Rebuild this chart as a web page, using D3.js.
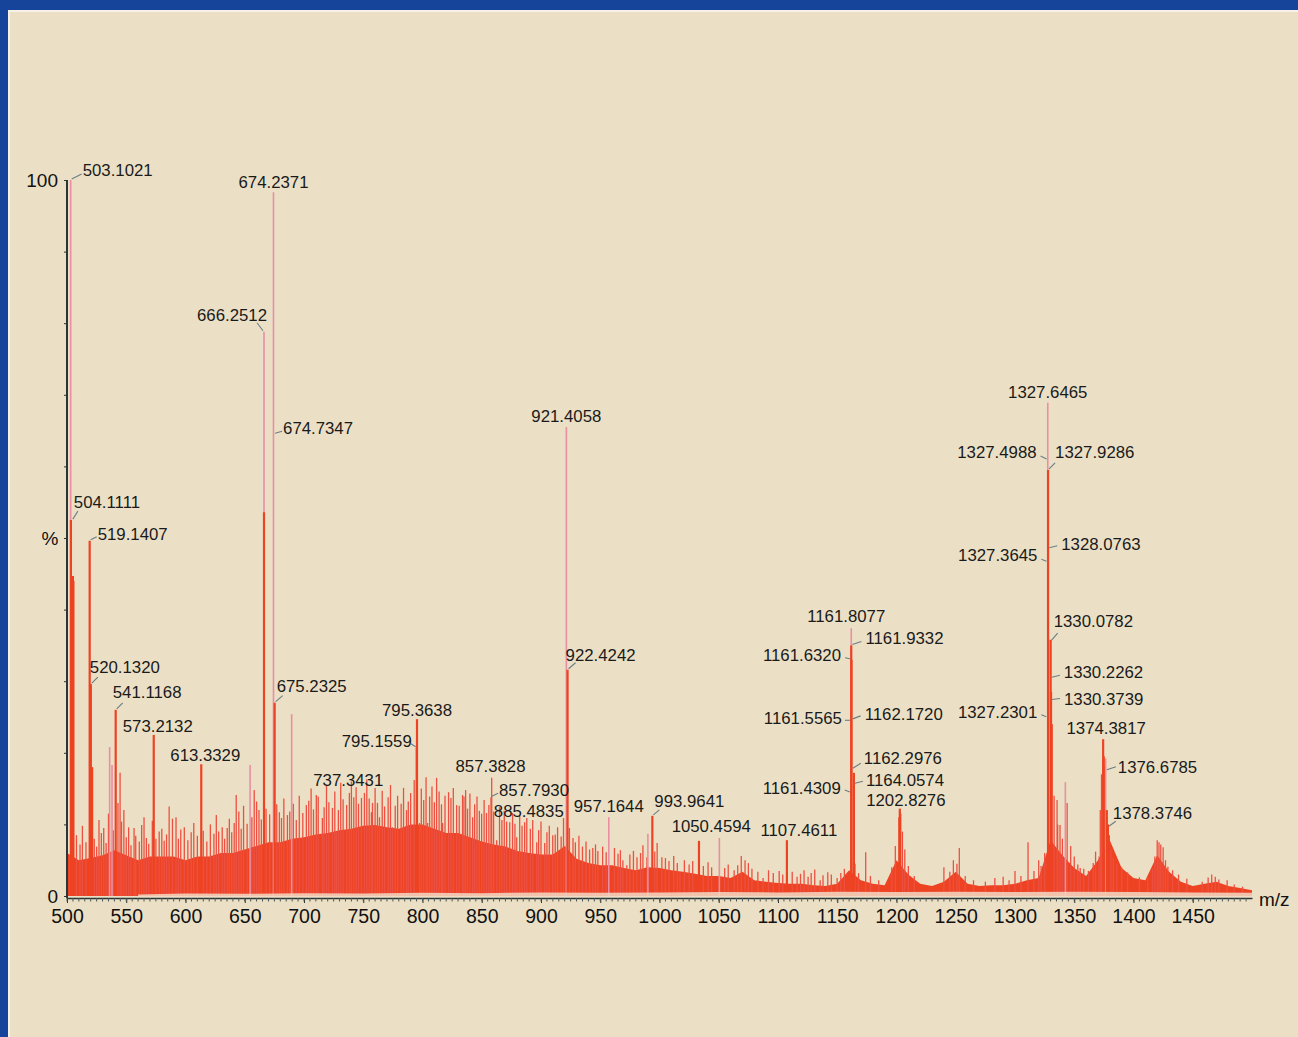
<!DOCTYPE html>
<html><head><meta charset="utf-8">
<script src="https://cdn.jsdelivr.net/npm/d3@7"></script>
<style>
html,body{margin:0;padding:0;background:#ebe0c5;}
svg{display:block;font-family:"Liberation Sans",Arial,sans-serif;}
</style></head>
<body>
<script>
// ---- data ----
const envelopeMz = d3.range(500, 1501, 10);
const envelopePct = [6.0,5.0,5.3,5.7,6.4,5.7,5.0,5.5,5.5,5.5,5.0,5.5,5.5,6.0,6.0,6.5,7.0,7.5,7.5,8.0,
  8.2,8.6,8.8,9.2,9.4,9.8,9.9,9.6,9.4,10.0,10.0,9.4,8.8,8.8,8.2,7.6,7.2,6.9,6.3,6.0,
  5.8,5.8,7.0,5.2,4.6,4.3,4.3,3.9,3.6,4.0,3.9,3.6,3.4,3.1,2.8,2.8,2.5,3.4,2.2,2.0,
  1.8,1.7,1.7,1.5,1.4,1.7,3.6,2.2,1.7,1.5,5.0,3.0,1.7,1.4,2.0,3.4,1.7,1.4,1.5,1.5,
  1.7,2.2,2.5,7.8,5.7,3.9,2.8,5.0,7.8,3.9,2.5,2.2,5.7,3.4,2.0,1.4,1.7,2.0,1.4,1.1,0.8];

// pale low floor under the mass (beige gap just above the axis)
const floorMz  = [560,600,650,700,750,800,850,900,950,1000,1050,1100,1150,1200,1250,1300,1350,1400,1450,1500];
const floorPct = [0.2,0.35,0.3,0.4,0.35,0.45,0.4,0.5,0.45,0.5,0.55,0.5,0.6,0.55,0.6,0.55,0.6,0.55,0.5,0.45];

// thin centroid-like sticks (pale tops)
const stickMz  = [503.10,666.25,674.24,689.6,654.5,536.0,538.0,921.41,1161.81,1327.65,1342.5,1376.5,990.2,1050.5,957.2];
const stickPct = [100,78.8,98.3,25.4,18.3,20.8,18.3,65.5,37.4,68.9,15.9,19.2,8.7,8.1,11.0];

// strong red peak bodies
const bodyMz  = [503.3,504.6,505.0,505.4,519.14,520.13,521.2,541.1,573.2,613.3,666.25,675.23,795.36,795.16,922.42,
  993.96,1033.3,1107.5,1161.8,1162.0,1164.06,1202.4,1202.8,1203.2,1327.9,1330.08,1330.4,1331.0,1374.38,1374.9,1377.5,1378.4,1379.2];
const bodyPct = [52.5,44.7,44.7,44.0,49.6,29.6,18.0,26.0,22.5,18.4,53.6,27.0,24.7,20.7,31.6,
  11.2,7.7,7.8,35.0,33.0,17.2,11.0,12.2,11.5,59.5,35.8,28.5,24.0,21.9,19.5,12.0,10.0,8.5];

// noise spikes above the dense mass
const noiseMz  = [527,531,544.8,548,556.6,565,577.8,586.2,592,599,604.8,621,628,635.2,641.1,642.8,658,662,679.2,686,
  693.5,702,710.4,715.5,724,727.3,738.3,748.5,756.9,757.8,763.7,774.7,786.5,797.5,804.3,811.9,817,822,828.8,833.8,
  836.4,842.3,849.9,857.79,858.4,862.6,873.6,879.5,886.2,896.4,903.1,909.9,943.7,969.1,972.4,989.4,1002,1017.2,1072.2,1087.4,
  1116.1,1125.4,1135.6,1149.9,1174,1253,1311,1335.5,1338,1344,1355,1371,1421.5,1425,1429,1469,1479,1240,1290,1300,1320,
  508,511,513,516,523,525,529,533,535,539,543,546,550,552,554,558,561,563,567,569,
  572,575,580,582,584,589,594,596,602,607,610,615,618,624,626,631,633,637,639,645,
  647,649,652,656,660,664,668,671,677,681,683,688,691,696,699,704,706,708,712,717,
  719,721,726,729,731,733,736,740,742,744,746,751,753,755,760,762,766,768,771,773,
  777,779,782,784,788,790,793,799,801,803,806,808,810,814,816,819,824,826,831,835,
  838,840,844,846,848,852,854,856,860,865,867,869,871,876,878,882,884,888,891,893,
  898,900,905,907,912,914,917,919,924,927,929,932,935,938,941,946,948,952,955,962,
  965,967,975,978,981,984,986,996,998,1005,1008,1012,1015,1021,1025,1028,1037,1041,1044,1055,
  1058,1063,1066,1069,1075,1078,1083,1092,1096,1101,1104,1112,1119,1122,1128,1131,1138,1142,1145,1153,
  1156,1165,1168,1178,1185,1196,1199,1205,1207,1210,1215,1245,1248,1251,1258,1265,1275,1283,1295,1305,
  1316,1322,1325,1333,1336,1340,1347,1350,1353,1358,1362,1366,1368,1372,1373,1376,1381,1383,1386,1390,
  1395,1405,1412,1416,1418,1420,1423,1427,1433,1438,1445,1458,1463,1466,1472,1485,1492];
const noisePct = [10.6,9.5,17.2,12.0,9.5,11.0,9.0,12.5,11.0,9.6,8.9,10.0,9.0,9.5,10.2,14.1,14.8,12.0,11.7,11.3,
  10.6,12.7,14.1,10.9,12.3,8.9,14.4,13.7,11.7,13.0,11.0,9.6,12.0,10.2,10.2,16.5,10.2,14.5,12.7,14.1,
  14.8,11.0,11.5,13.8,16.5,7.8,10.3,8.2,10.3,7.5,7.4,8.5,6.7,5.0,4.3,5.4,5.4,3.2,5.0,2.5,
  2.7,2.7,2.2,2.5,6.1,6.7,7.5,13.4,9.9,13.0,3.9,5.5,7.5,6.8,4.1,2.7,2.2,4.0,2.7,3.5,5.0,
  8.5,7.2,9.8,7.5,8.0,6.9,8.8,7.4,11.5,9.2,13.0,10.4,8.2,9.6,7.1,8.4,7.6,9.9,8.1,7.3,
  10.5,8.0,9.4,7.7,8.6,10.8,8.0,9.3,7.8,10.2,8.4,9.1,7.6,8.7,11.3,9.6,8.0,10.8,8.9,11.8,
  9.4,12.6,10.1,11.0,13.2,10.7,12.2,11.4,12.8,10.9,13.6,11.8,12.9,14.0,11.6,13.3,15.0,12.1,13.9,12.4,
  15.4,13.1,14.6,12.0,15.8,13.5,12.7,16.0,13.8,15.2,12.9,14.4,16.3,13.6,15.1,13.0,14.7,12.5,13.8,15.5,
  12.6,14.0,12.9,15.1,13.2,14.4,16.2,15.0,13.4,16.6,13.9,15.3,13.1,14.6,12.8,14.0,13.7,15.1,12.6,13.9,
  12.2,14.3,12.8,13.9,11.9,13.4,11.6,12.7,11.8,12.4,10.6,11.9,10.4,11.6,10.1,11.2,9.8,10.9,9.4,10.6,
  9.2,10.4,8.9,9.8,8.6,9.6,8.3,10.9,9.5,8.1,7.5,8.4,6.9,7.6,6.5,7.2,6.3,6.9,6.1,6.7,
  5.9,6.4,5.8,6.3,5.4,6.0,7.1,6.2,7.4,5.3,4.9,5.6,4.6,5.0,4.4,4.9,4.2,4.7,4.0,3.9,
  4.4,3.6,4.3,5.6,4.6,3.8,3.4,3.6,3.2,3.5,3.0,3.4,3.1,3.6,3.2,3.7,2.9,3.3,3.0,3.2,
  3.8,4.5,3.2,2.8,2.2,4.0,7.0,9.0,6.5,4.2,2.8,3.4,5.0,4.5,2.8,2.2,2.0,2.5,2.2,2.8,
  3.5,4.2,6.0,14.0,10.0,8.0,7.0,5.5,4.4,3.8,3.5,4.6,6.2,12.0,17.0,18.0,6.5,5.3,4.5,4.0,
  3.3,2.6,2.8,3.8,5.5,7.8,7.2,5.0,3.6,3.0,2.4,2.0,2.6,3.0,2.3,1.6,1.3];

// peak annotations
const labelText = ["503.1021","674.2371","666.2512","674.7347","504.1111","519.1407","520.1320","541.1168","573.2132","613.3329",
  "675.2325","737.3431","795.3638","795.1559","857.3828","857.7930","885.4835","921.4058","922.4242","957.1644",
  "993.9641","1050.4594","1107.4611","1161.8077","1161.9332","1161.6320","1161.5565","1162.1720","1162.2976","1164.0574",
  "1161.4309","1202.8276","1327.6465","1327.4988","1327.9286","1327.3645","1328.0763","1330.0782","1330.2262","1330.3739",
  "1327.2301","1374.3817","1376.6785","1378.3746"];
const labelMz = [503.1021,674.2371,666.2512,674.7347,504.1111,519.1407,520.1320,541.1168,573.2132,613.3329,
  675.2325,737.3431,795.3638,795.1559,857.3828,857.7930,885.4835,921.4058,922.4242,957.1644,
  993.9641,1050.4594,1107.4611,1161.8077,1161.9332,1161.6320,1161.5565,1162.1720,1162.2976,1164.0574,
  1161.4309,1202.8276,1327.6465,1327.4988,1327.9286,1327.3645,1328.0763,1330.0782,1330.2262,1330.3739,
  1327.2301,1374.3817,1376.6785,1378.3746];
const labelPct = [100,98.3,78.8,64.5,52.5,49.6,29.6,26.0,22.5,18.4,
  27.0,14.2,24.7,20.7,16.5,13.8,10.3,65.5,31.6,11.0,
  11.2,8.1,7.8,37.4,35.0,33.0,24.4,24.6,17.7,15.6,
  14.4,12.2,68.9,60.9,59.5,46.6,48.5,35.6,30.4,27.3,
  24.9,21.9,17.5,9.6];

const xTicks = d3.range(500, 1451, 50);
const yTicks = d3.range(0, 101, 10);

// ---- layout (px offsets of each label from its peak point) ----
// [dx, dy, anchor, leaderX, leaderY]  (leader null = none)
const labelLayout = [
  [12,-4,"start",11,-6],[0,-4,"middle",null,null],[3,-11,"end",-7,-9],[9,0,"start",8,-3],[2,-12,"start",6,-9],
  [8,-1,"start",7,-4],[-1,-11,"start",7,-7],[-3,-12,"start",7,-7],[4,-3,"middle",null,null],[4,-3,"middle",null,null],
  [2,-11,"start",8,-7],[0,-8,"middle",null,null],[0,-3,"middle",null,null],[-5,-1,"end",-6,-4],[0,-6,"middle",null,null],
  [8,-1,"start",7,-4],[5,-5,"middle",null,null],[0,-5,"middle",null,null],[-2,-9,"start",8,-7],[0,-5,"middle",null,null],
  [2,-9,"start",7,-6],[-8,-6,"middle",null,null],[12,-4,"middle",null,null],[-5,-6,"middle",null,null],[14,-1,"start",10,-4],
  [-10,1,"end",-6,-2],[-9,3,"end",-6,-1],[13,0,"start",9,-4],[12,-5,"start",9,-6],[12,2,"start",9,-3],
  [-10,1,"end",-6,-3],[6,-3,"middle",null,null],[0,-5,"middle",null,null],[-11,-2,"end",-7,-4],[7,-12,"start",7,-7],
  [-10,-1,"end",-6,-3],[13,1,"start",9,-3],[3,-14,"start",7,-8],[13,0,"start",9,-3],[13,4,"start",9,-2],
  [-10,0,"end",-6,-3],[3,-5,"middle",null,null],[12,2,"start",10,-4],[5,-8,"start",8,-6]
];

// ---- drawing ----
const W = 1298, H = 1037;
const svg = d3.select("body").append("svg").attr("width", W).attr("height", H);
svg.append("rect").attr("width", W).attr("height", H).attr("fill", "#ebe0c5");
// frame
svg.append("rect").attr("x",0).attr("y",0).attr("width",W).attr("height",10).attr("fill","#15449a");
svg.append("rect").attr("x",0).attr("y",0).attr("width",8).attr("height",H).attr("fill","#15449a");
svg.append("rect").attr("x",8).attr("y",10).attr("width",W).attr("height",2).attr("fill","#f6f2e8");
svg.append("rect").attr("x",8).attr("y",10).attr("width",2).attr("height",H).attr("fill","#f6f2e8");

const x = d3.scaleLinear().domain([500, 1500]).range([67, 1252]);
const y = d3.scaleLinear().domain([0, 100]).range([896, 180]);

const RED = "#ee4323", PINK = "#e98ea3";

// dense mass
const env = envelopeMz.map((m, i) => [m, envelopePct[i]]);
svg.append("path").datum(env)
  .attr("d", d3.area().x(d => x(d[0])).y0(y(0)).y1(d => y(d[1])).curve(d3.curveLinear))
  .attr("fill", RED);

// noise spikes
const g = svg.append("g");
noiseMz.forEach((m, i) => {
  g.append("line").attr("x1", x(m)).attr("x2", x(m)).attr("y1", y(0)).attr("y2", y(noisePct[i]))
    .attr("stroke", "#ed5040").attr("stroke-width", 1.3);
});
// pale sticks
stickMz.forEach((m, i) => {
  g.append("line").attr("x1", x(m)).attr("x2", x(m)).attr("y1", y(0)).attr("y2", y(stickPct[i]))
    .attr("stroke", PINK).attr("stroke-width", 1.6);
});
// red bodies
bodyMz.forEach((m, i) => {
  g.append("line").attr("x1", x(m)).attr("x2", x(m)).attr("y1", y(0)).attr("y2", y(bodyPct[i]))
    .attr("stroke", RED).attr("stroke-width", 2.2);
});

// pale floor band
const fl = floorMz.map((m, i) => [m, floorPct[i]]);
svg.append("path").datum(fl)
  .attr("d", d3.area().x(d => x(d[0])).y0(y(0) + 1).y1(d => y(d[1])).curve(d3.curveLinear))
  .attr("fill", "#f2d9c4").attr("opacity", 0.85);

// axes
const axisColor = "#2b3535";
const xa = svg.append("g").attr("transform", `translate(0,898)`)
  .call(d3.axisBottom(x).tickValues(xTicks).tickSize(5).tickSizeOuter(0).tickPadding(6).tickFormat(d3.format("d")));
xa.select(".domain").attr("stroke", axisColor).attr("stroke-width", 1.6);
xa.selectAll(".tick line").attr("stroke", axisColor);
xa.selectAll(".tick text").attr("font-size", 19.5).attr("fill", "#111").attr("font-family", "Liberation Sans, Arial");
// minor ticks
svg.append("g").selectAll("line").data(d3.range(500, 1500, 5)).join("line")
  .attr("x1", d => x(d)).attr("x2", d => x(d)).attr("y1", 898).attr("y2", 901.5)
  .attr("stroke", "#4a5858").attr("stroke-width", 1);

const ya = svg.append("g").attr("transform", `translate(67,0)`)
  .call(d3.axisLeft(y).tickValues(yTicks).tickSize(3).tickSizeOuter(0).tickFormat(""));
ya.select(".domain").attr("stroke", axisColor).attr("stroke-width", 2).attr("d", `M0,${y(100)}V898`);
ya.selectAll(".tick line").attr("stroke", axisColor);

svg.append("text").attr("x", 58).attr("y", y(100) + 7).attr("text-anchor", "end")
  .attr("font-size", 19).attr("fill", "#111").text("100");
svg.append("text").attr("x", 58).attr("y", y(0) + 7).attr("text-anchor", "end")
  .attr("font-size", 19).attr("fill", "#111").text("0");
svg.append("text").attr("x", 50).attr("y", y(50) + 7).attr("text-anchor", "middle")
  .attr("font-size", 19).attr("fill", "#111").text("%");
svg.append("text").attr("x", 1259).attr("y", 906).attr("font-size", 19).attr("fill", "#111").text("m/z");

// labels + leaders
const lg = svg.append("g");
labelText.forEach((t, i) => {
  const px = x(labelMz[i]), py = y(labelPct[i]);
  const [dx, dy, anchor, lx, ly] = labelLayout[i];
  if (lx !== null) {
    const s = Math.sign(lx);
    lg.append("line").attr("x1", px + s * 1).attr("y1", py - 1).attr("x2", px + lx).attr("y2", py + ly)
      .attr("stroke", "#6a7e86").attr("stroke-width", 1.1);
  }
  lg.append("text").attr("x", px + dx).attr("y", py + dy).attr("text-anchor", anchor)
    .attr("font-size", 16.8).attr("fill", "#1a1a1a").text(t);
});
</script>
</body></html>
